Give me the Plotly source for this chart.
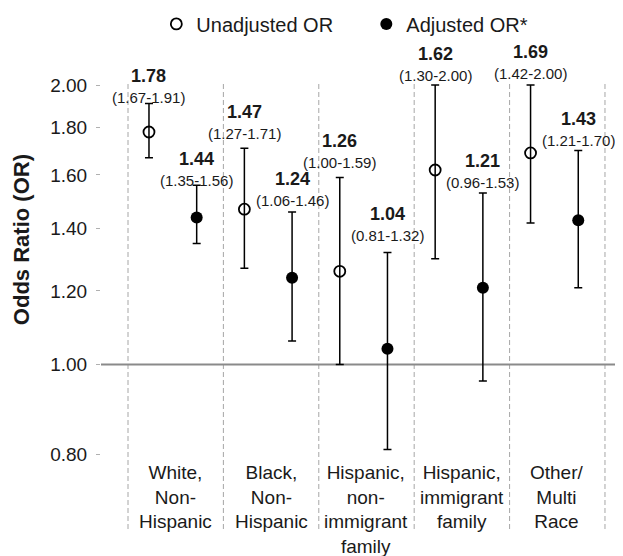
import math
import plotly.graph_objects as go

# ---- data ----
categories = ["White,<br>Non-<br>Hispanic", "Black,<br>Non-<br>Hispanic",
              "Hispanic,<br>non-<br>immigrant<br>family", "Hispanic,<br>immigrant<br>family",
              "Other/<br>Multi<br>Race"]
unadj_or = [1.78, 1.47, 1.26, 1.62, 1.69]
unadj_lo = [1.67, 1.27, 1.00, 1.30, 1.42]
unadj_hi = [1.91, 1.71, 1.59, 2.00, 2.00]
adj_or = [1.44, 1.24, 1.04, 1.21, 1.43]
adj_lo = [1.35, 1.06, 0.81, 0.96, 1.21]
adj_hi = [1.56, 1.46, 1.32, 1.53, 1.70]
tick_vals = [0.80, 1.00, 1.20, 1.40, 1.60, 1.80, 2.00]
tick_text = ["%.2f" % v for v in tick_vals]

# ---- style ----
FONT = "Liberation Sans, Arial, Helvetica, sans-serif"
TXT = "#1a1a1a"
OFF_U, OFF_A = -0.28, 0.22
lift_u = [6, 15, 15, 10, 12]
lift_a = [5, 11, 17, 11, 10]

n = len(categories)
xu = [i + OFF_U for i in range(n)]
xa = [i + OFF_A for i in range(n)]

fig = go.Figure()
fig.add_trace(go.Scatter(
    x=xu, y=unadj_or, mode="markers", name="Unadjusted OR",
    marker=dict(symbol="circle-open", size=11, color="black", line=dict(width=1.8, color="black")),
    error_y=dict(type="data", symmetric=False,
                 array=[h - o for h, o in zip(unadj_hi, unadj_or)],
                 arrayminus=[o - l for o, l in zip(unadj_or, unadj_lo)],
                 color="black", thickness=1.5, width=4),
    cliponaxis=False,
))
fig.add_trace(go.Scatter(
    x=xa, y=adj_or, mode="markers", name="Adjusted OR*",
    marker=dict(symbol="circle", size=12, color="black"),
    error_y=dict(type="data", symmetric=False,
                 array=[h - o for h, o in zip(adj_hi, adj_or)],
                 arrayminus=[o - l for o, l in zip(adj_or, adj_lo)],
                 color="black", thickness=1.5, width=4),
    cliponaxis=False,
))

annotations = []
for xs, ors, los, his, lifts in [(xu, unadj_or, unadj_lo, unadj_hi, lift_u),
                                 (xa, adj_or, adj_lo, adj_hi, lift_a)]:
    for x, o, l, h, lf in zip(xs, ors, los, his, lifts):
        annotations.append(dict(x=x, y=math.log10(h), xref="x", yref="y",
                                text="(%.2f-%.2f)" % (l, h), showarrow=False,
                                yanchor="middle", yshift=lf,
                                font=dict(family=FONT, size=15, color=TXT)))
        annotations.append(dict(x=x, y=math.log10(h), xref="x", yref="y",
                                text="<b>%.2f</b>" % o, showarrow=False,
                                yanchor="middle", yshift=lf + 21.5,
                                font=dict(family=FONT, size=18, color=TXT)))

for i, c in enumerate(categories):
    annotations.append(dict(x=i, y=0.154, xref="x", yref="paper", text=c,
                            showarrow=False, yanchor="top", xanchor="center", align="center",
                            font=dict(family=FONT, size=19, color=TXT)))

annotations.append(dict(x=-0.153, y=0.6465, xref="paper", yref="paper",
                        text="<b>Odds Ratio (OR)</b>", textangle=-90, showarrow=False,
                        xanchor="center", yanchor="middle",
                        font=dict(family=FONT, size=22, color=TXT)))

shapes = []
for b in range(n + 1):
    shapes.append(dict(type="line", xref="x", yref="paper", x0=b - 0.5, x1=b - 0.5,
                       y0=0, y1=1, layer="below",
                       line=dict(color="#a6a6a6", width=1, dash="5px,3px")))
shapes.append(dict(type="line", xref="paper", yref="y", x0=0, x1=1, y0=1.0, y1=1.0,
                   layer="below", line=dict(color="#8a8a8a", width=2)))

fig.update_layout(
    width=615, height=548,
    margin=dict(l=93, r=0, t=74, b=27, autoexpand=False),
    paper_bgcolor="white", plot_bgcolor="white",
    font=dict(family=FONT, color=TXT),
    showlegend=True,
    legend=dict(orientation="h", x=0.106, xanchor="left", y=1.13, yanchor="middle",
                font=dict(family=FONT, size=20, color=TXT),
                entrywidth=165, entrywidthmode="pixels", itemwidth=30,
                bgcolor="rgba(0,0,0,0)"),
    xaxis=dict(range=[-0.783, 4.689], showgrid=False, zeroline=False,
               showticklabels=False, ticks="", showline=False, fixedrange=True),
    yaxis=dict(type="log", range=[math.log10(0.665), math.log10(2.015)],
               tickvals=tick_vals, ticktext=tick_text, showgrid=False, zeroline=False,
               showline=False, ticks="outside", ticklen=4, tickwidth=1, tickcolor="#b0b0b0",
               ticklabelstandoff=5,
               tickfont=dict(family=FONT, size=19, color=TXT)),
    annotations=annotations, shapes=shapes,
)

fig.write_html("out.html")
